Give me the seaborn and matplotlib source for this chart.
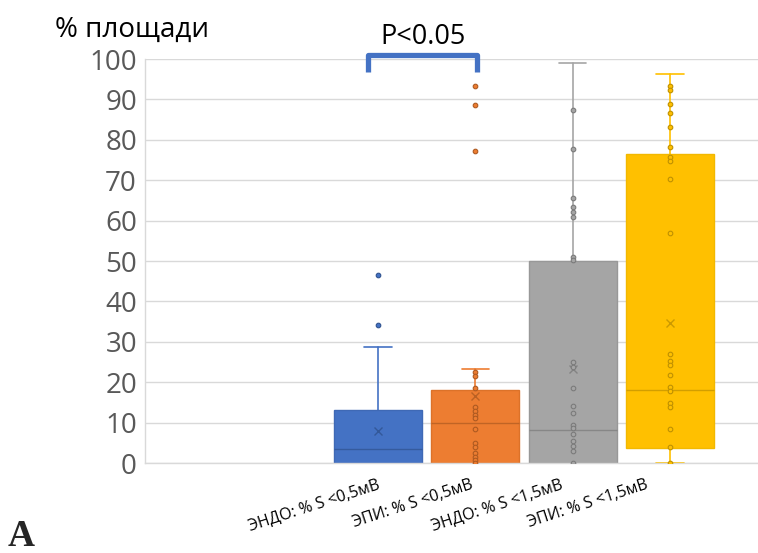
import numpy as np
import pandas as pd
import matplotlib
matplotlib.use("Agg")
import matplotlib.pyplot as plt
import matplotlib.transforms as mtransforms
import seaborn as sns

# Groups shown on the x axis
categories = ["ЭНДО: % S <0,5мВ", "ЭПИ: % S <0,5мВ", "ЭНДО: % S <1,5мВ", "ЭПИ: % S <1,5мВ"]

# Box statistics per group (% of area)
q1 = [0.0, 0.0, 0.0, 3.8]
median = [3.4, 9.8, 8.2, 18.1]
q3 = [13.1, 18.1, 50.1, 76.5]
whisker_low = [0.0, 0.0, 0.0, 0.0]
whisker_high = [28.8, 23.2, 98.9, 96.4]
mean = [7.9, 16.7, 23.3, 34.6]

# Individual observations drawn as dots
points_endo_05 = [34.1, 46.5]
points_epi_05 = [93.3, 88.6, 77.2, 22.6, 21.6, 18.5, 13.9, 12.9, 12.0, 11.1,
                 8.3, 4.9, 4.0, 2.4, 1.6, 0.7, 0.0]
points_endo_15 = [87.4, 77.7, 65.5, 63.4, 62.2, 61.0, 51.1, 50.2, 24.9, 23.8,
                  18.6, 14.2, 12.3, 9.4, 8.6, 7.3, 5.5, 4.3, 3.0, 0.0]
points_epi_15 = [93.2, 92.3, 88.9, 86.6, 83.1, 78.1, 75.8, 74.8, 70.4, 56.9,
                 27.0, 25.3, 24.3, 21.8, 18.7, 17.7, 14.9, 13.8, 8.3, 4.0, 0.0]
points = [points_endo_05, points_epi_05, points_endo_15, points_epi_15]

yticks = [0, 10, 20, 30, 40, 50, 60, 70, 80, 90, 100]
significance_label = "P<0.05"
y_title = "% площади"
panel_label = "A"

fill_colors = ["#4472C4", "#ED7D31", "#A5A5A5", "#FFC000"]
dark_colors = ["#2F528F", "#AE5A21", "#7B7B7B", "#BF9000"]
edge_colors = ["#3F69B5", "#DC7229", "#989898", "#F2B800"]

sns.set_theme(style="whitegrid")
plt.rcParams["font.family"] = ["Open Sans", "DejaVu Sans"]

fig = plt.figure(figsize=(7.58, 5.53), dpi=100)
ax = fig.add_axes([145 / 758, 1 - 463 / 553, 1 - 145 / 758, (463 - 59) / 553])

positions = list(range(len(categories)))

stats = []
for i, name in enumerate(categories):
    stats.append(dict(label=name, q1=q1[i], med=median[i], q3=q3[i],
                      whislo=whisker_low[i], whishi=whisker_high[i],
                      mean=mean[i], fliers=[]))

art = ax.bxp(stats, positions=positions, widths=0.905, capwidths=0.28,
             showmeans=True, meanline=False, showfliers=False,
             patch_artist=True, manage_ticks=False)

for i in positions:
    box = art["boxes"][i]
    box.set_facecolor(fill_colors[i])
    box.set_edgecolor(edge_colors[i])
    box.set_linewidth(1.0)
    box.set_zorder(2)
    med = art["medians"][i]
    med.set_color(dark_colors[i])
    med.set_linewidth(1.0)
    med.set_alpha(0.7)
    med.set_zorder(3)
    for w in art["whiskers"][2 * i:2 * i + 2]:
        w.set_color(fill_colors[i])
        w.set_linewidth(1.2)
        w.set_zorder(1.5)
    for c in art["caps"][2 * i:2 * i + 2]:
        c.set_color(fill_colors[i])
        c.set_linewidth(1.2)
        c.set_zorder(1.5)
    mk = art["means"][i]
    mk.set_marker("x")
    mk.set_markersize(6)
    mk.set_markeredgecolor(dark_colors[i])
    mk.set_markeredgewidth(1.0)
    mk.set_alpha(0.8)
    mk.set_zorder(4)

# Observations on top of the boxes
for i, vals in enumerate(points):
    sns.stripplot(x=np.full(len(vals), positions[i], dtype=float), y=vals,
                  native_scale=True, orient="v", jitter=False,
                  color=fill_colors[i], edgecolor=dark_colors[i],
                  linewidth=0.8, size=3.3, ax=ax, zorder=5)

ax.set_xlim((145 - 378) / 97.3, (758 - 378) / 97.3)
ax.set_ylim(0, 100)
ax.set_yticks(yticks)
ax.set_yticklabels([str(t) for t in yticks])
ax.set_xticks(positions)
ax.set_xticklabels(categories)
ax.set_xlabel("")
ax.set_ylabel("")

ax.grid(True, axis="y", color="#D9D9D9", linewidth=1.0)
ax.grid(False, axis="x")
ax.set_axisbelow(True)
for side in ["top", "right"]:
    ax.spines[side].set_visible(False)
for side in ["left", "bottom"]:
    ax.spines[side].set_color("#D9D9D9")
    ax.spines[side].set_linewidth(1.0)

ax.tick_params(axis="y", length=0, pad=5.8, labelsize=20, labelcolor="#595959")
ax.tick_params(axis="x", length=0, pad=10, labelsize=11.5, labelcolor="black")
for lbl in ax.get_xticklabels():
    lbl.set_rotation(18)
    lbl.set_ha("right")
    lbl.set_va("top")
    lbl.set_rotation_mode("anchor")

# Significance bracket between the two <0,5мВ groups
ax.plot([-0.106, -0.106, 1.014, 1.014], [96.8, 101.1, 101.1, 96.8],
        color="#4472C4", linewidth=3.8, solid_joinstyle="round",
        solid_capstyle="butt", clip_on=False, zorder=6)
ax.text(0.463, 103.7, significance_label, ha="center", va="baseline",
        fontsize=19.5, color="black", clip_on=False)

fig.text(55 / 758, 1 - 37 / 553, y_title, ha="left", va="baseline",
         fontsize=20, color="black")
fig.text(8 / 758, 0.012, panel_label, ha="left", va="baseline",
         fontsize=27, fontweight="bold", family=["Liberation Serif", "DejaVu Serif"])

# Nudge the rotated category labels horizontally
shifts_px = [-1, -5, -13, -25]
for lbl, dx in zip(ax.get_xticklabels(), shifts_px):
    off = mtransforms.ScaledTranslation(dx / 100, 0, fig.dpi_scale_trans)
    lbl.set_transform(lbl.get_transform() + off)

fig.savefig("out.png", dpi=100)
